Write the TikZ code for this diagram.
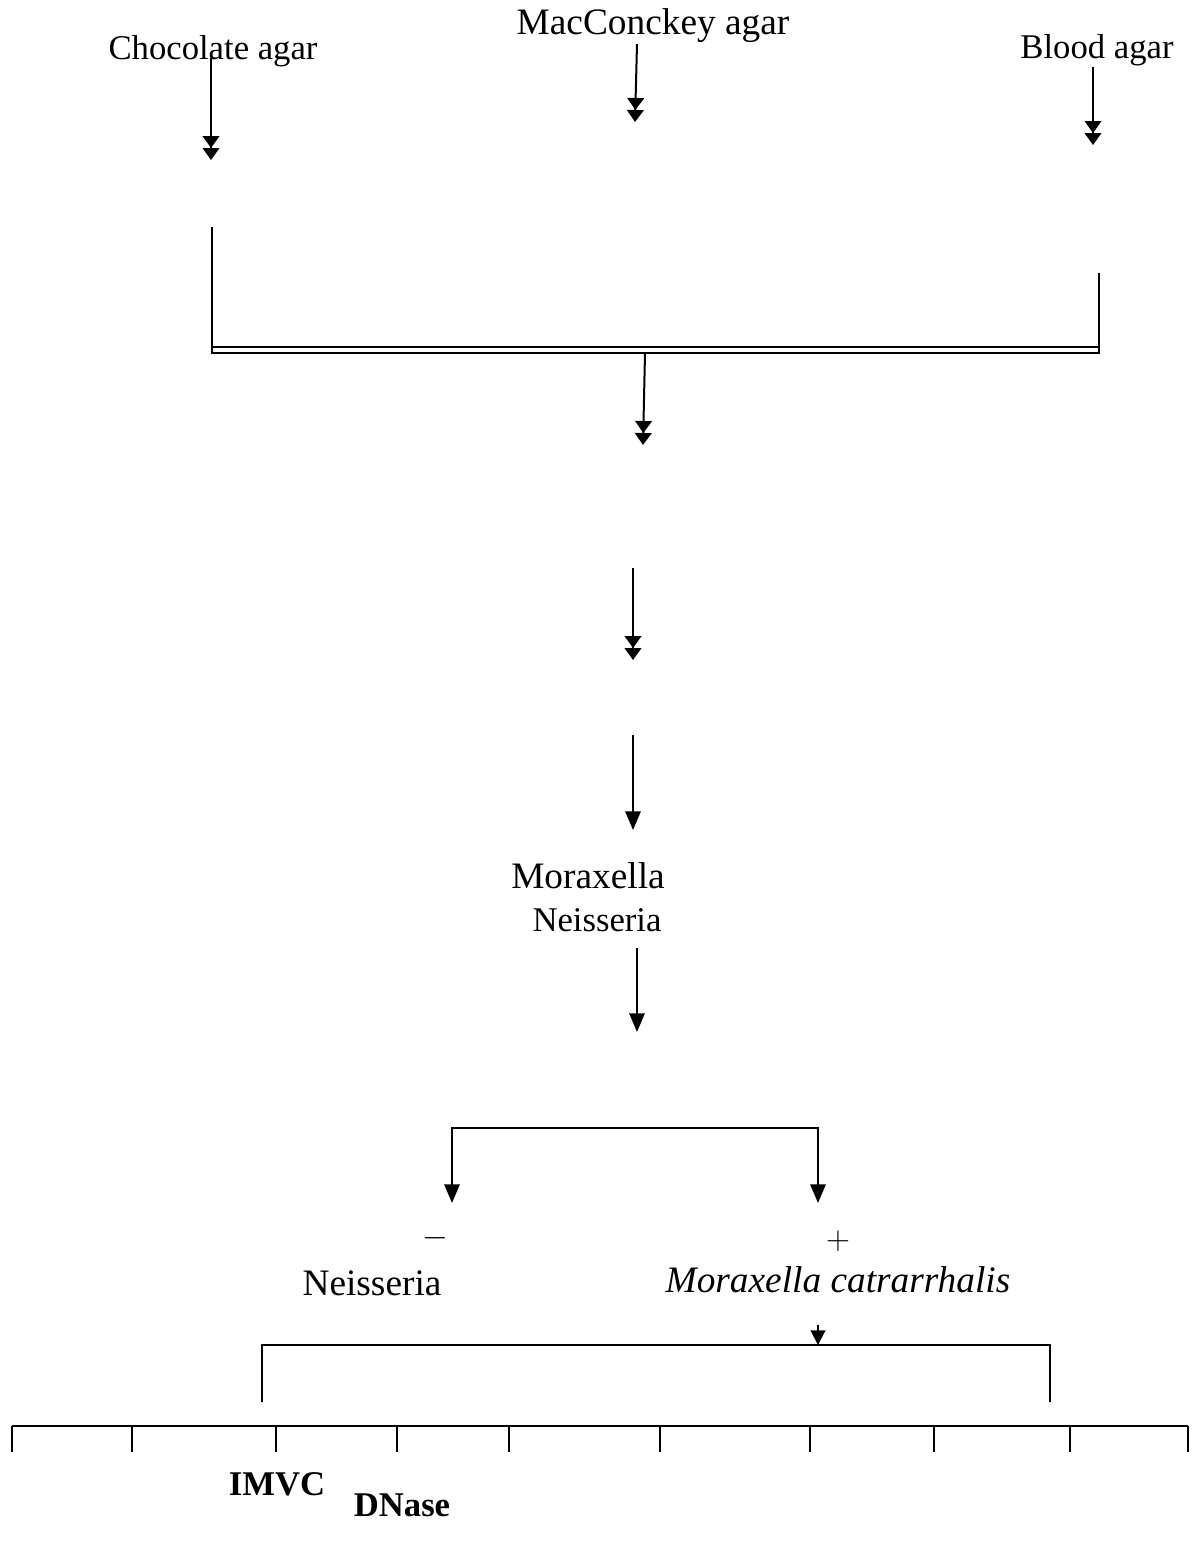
\documentclass[tikz,border=0pt]{standalone}
\usepackage{fontspec}
\setmainfont{Liberation Serif}
\usetikzlibrary{arrows.meta}
\tikzset{every picture/.style={line width=1.5pt}}
\tikzset{
  big/.style={anchor=base,inner sep=0.75pt,font=\fontsize{28}{32}\selectfont},
  small/.style={anchor=base,inner sep=0.75pt,font=\fontsize{26}{30}\selectfont},
  arr/.style={-{Triangle[width=11.5pt,length=14pt]}},
  darr/.style={-{Triangle[width=12.5pt,length=9pt]Triangle[width=12.5pt,length=9pt]}},
}
\begin{document}
\begin{tikzpicture}[x=0.75pt,y=0.75pt,yscale=-1,xscale=1]
\useasboundingbox (0,0) rectangle (1192,1546);

% media
\node[small] (choc) at (213,59) {Chocolate agar};
\node[big] (mac) at (653,34) {MacConckey agar};
\node[small] (blood) at (1097,58) {Blood agar};
\coordinate (chocend) at (211,160);
\coordinate (macend) at (635,122);
\coordinate (bloodend) at (1093,145);
\draw[darr] (211,58) -- (chocend);
\draw[darr] (mac.south -| 637,0) -- (macend);
\draw[darr] (blood.south -| 1093,0) -- (bloodend);

% join
\coordinate (ltop) at (212,227);
\coordinate (rtop) at (1099,273);
\coordinate (lbot) at (212,353);
\coordinate (rbot) at (1099,353);
\draw (ltop) -- (lbot) -- (rbot) -- (rtop);
\draw (212,347) -- (1099,347);
\coordinate (j1) at (645,353);
\coordinate (j1end) at (643,445);
\draw[darr] (j1) -- (j1end);

\coordinate (s2) at (633,568);
\coordinate (s2end) at (633,660);
\draw[darr] (s2) -- (s2end);
\coordinate (s3) at (633,735);
\coordinate (s3end) at (633,830);
\draw[arr] (s3) -- (s3end);

% genus
\node[big] (mor) at (588,888) {Moraxella};
\node[small] (nei) at (597,931) {Neisseria};
\coordinate (s4) at (637,948);
\coordinate (s4end) at (637,1032);
\draw[arr] (s4) -- (s4end);

% test result
\coordinate (negtip) at (452,1203);
\coordinate (postip) at (818,1203);
\draw[{Triangle[width=11.5pt,length=14pt]}-{Triangle[width=11.5pt,length=14pt]}] (negtip) -- (452,1128) -- (818,1128) -- (postip);
\node[small] (neg) at (435,1246) {$-$};
\node[small] (pos) at (838,1249) {$+$};
\node[big] (neis) at (372,1295) {Neisseria};
\node[big] (mcat) at (838,1292) {\itshape Moraxella catrarrhalis};

% tests
\coordinate (mtop) at (818,1325);
\coordinate (mbot) at (818,1345);
\draw[-{Triangle[width=11pt,length=11pt]}] (mtop) -- (mbot);
\draw (262,1402) -- (262,1345) -- (1050,1345) -- (1050,1402);
\draw (12,1426) -- (1188,1426);
\foreach \x in {12,132,276,397,509,660,810,934,1070,1188}
  \draw (\x,1426) -- (\x,1452);
\node[small,font=\fontsize{26}{30}\selectfont\bfseries] (imvc) at (277,1495) {IMVC};
\node[small,font=\fontsize{26}{30}\selectfont\bfseries] (dnase) at (402,1516) {DNase};

\end{tikzpicture}
\end{document}
